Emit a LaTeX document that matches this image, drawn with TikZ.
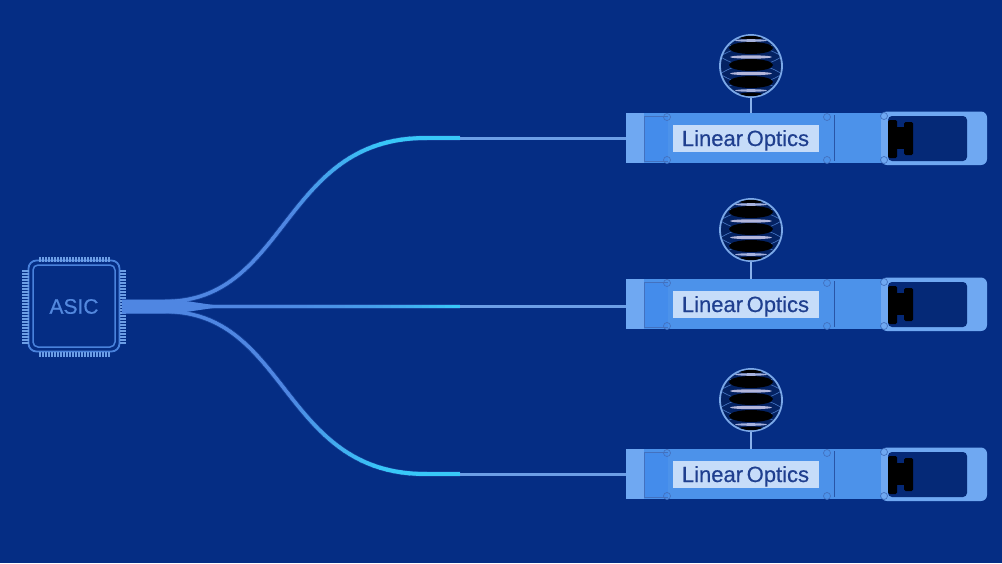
\documentclass[tikz,border=0pt]{standalone}
\usepackage{fontspec}
\setmainfont{Liberation Sans}
\newfontfamily\labfont[FakeBold=0.5,WordSpace=0.6]{Liberation Sans}
\usetikzlibrary{calc}
\definecolor{bgc}{HTML}{052D84}
\definecolor{fibA}{HTML}{4F86E2}
\definecolor{fibB}{HTML}{38C8F8}
\definecolor{modc}{HTML}{4C92EA}
\definecolor{modl}{HTML}{6FA8F2}
\definecolor{modi}{HTML}{448CEB}
\definecolor{labelc}{HTML}{C6DCF9}
\definecolor{txtc}{HTML}{1F3F8F}
\definecolor{ringc}{HTML}{6C9EE6}
\definecolor{asicc}{HTML}{4A82DC}
\definecolor{bandc}{HTML}{B4B6DA}
\tikzset{
 fiberbase/.style={draw=fibA,line width=3.2pt},
 fiberglow/.style={draw=fibA,line width=5.2pt,opacity=.25},
 asictext/.style={text=asicc!95!white,font=\labfont\fontsize{21}{23}\selectfont,inner sep=0pt},
 labelbox/.style={fill=labelc,text=txtc,minimum width=146pt,minimum height=27pt,inner sep=0pt,text height=17pt,text depth=2pt,font=\labfont\fontsize{22}{24}\selectfont},
 pin/.style={draw=ringc,line width=1.2pt},
 screw/.style={circle,draw=ringc!60!bgc,line width=.7pt,minimum size=7pt,inner sep=0pt},
 globering/.style={circle,draw=ringc!90!white,line width=1.8pt,minimum size=62pt,inner sep=0pt},
 stem/.style={draw=ringc!80!white,line width=1.4pt},
 tailline/.style={draw=ringc,line width=3pt},
}
\newcommand{\fibergrad}[6]{%
 \foreach \i in {0,...,49}{
  \pgfmathsetmacro{\ta}{\i/50}
  \pgfmathsetmacro{\tb}{(\i+1)/50+0.004}
  \pgfmathsetmacro{\mixv}{min(100,max(0,(\ta-#5)/(1-#5)*130))}
  \pgfmathsetmacro{\wid}{3.2+(#6-3.2)*\mixv/100}
  \colorlet{segc}{fibB!\mixv!fibA}
  \path (#1) .. controls (#2) and (#3) .. (#4) coordinate[pos=\ta] (sa) coordinate[pos=\tb] (sb);
  \draw[segc,line width=\wid pt] (sa) -- (sb);
 }
}
\newcommand{\module}[4]{%
 \begin{scope}[yshift=-#2pt]
  \coordinate (body#1) at (626,113);
  \fill[modc] (626,113) rectangle (895,163);
  \fill[modl] (626,113) rectangle (644,163);
  \fill[modi] (644,116) rectangle (668,161);
  \draw[ringc!60!bgc,line width=.6pt] (668,116) -- (644,116) -- (644,161) -- (668,161);
  \draw[ringc!35!bgc,line width=.8pt] (834,115) -- (834,161);
  \node[screw] (sa#1) at (667,117) {};
  \node[screw] (sb#1) at (827,117) {};
  \node[screw] (sc#1) at (667,160) {};
  \node[screw] (sd#1) at (827,160) {};
  \fill[modl,rounded corners=6pt] (881,111.5) rectangle (987,165);
  \fill[bgc!90!black,rounded corners=4pt] (888,116) rectangle (967,161);
  \fill[black,rounded corners=1.5pt] (888,120) rectangle (897,158);
  \fill[black,rounded corners=1.5pt] (904,122) rectangle (913,155);
  \fill[black] (896,127) rectangle (905,149);
  \node[screw] (se#1) at (884,116) {};
  \node[screw] (sf#1) at (884,160) {};
 \end{scope}
 \node[labelbox] (lab#1) at (745.5,#3) {Linear Optics};
 \node[globering,fill=bgc!75!black] (globe#1) at (751,#4) {};
 \begin{scope}
  \clip (751,#4) circle (30.2pt);
  \foreach \dy in {-26,-9.5,8,25}{
   \draw[ringc!65!bgc,line width=.6pt] (720,#4+\dy) .. controls (740,#4+\dy-13) and (762,#4+\dy-13) .. (782,#4+\dy);
   \draw[ringc!65!bgc,line width=.6pt] (720,#4+\dy) .. controls (740,#4+\dy+13) and (762,#4+\dy+13) .. (782,#4+\dy);
  }
  \foreach \dy in {-18,-1,16}{\fill[black] (751,#4+\dy) ellipse (22pt and 6pt);}
  \fill[black] (751,#4-29) ellipse (13pt and 2.4pt);
  \fill[black] (751,#4+29) ellipse (13pt and 2.4pt);
  \foreach \dy in {-9,7.5}{\fill[bandc] (751,#4+\dy) ellipse (21pt and 1.7pt);}
  \foreach \dy in {-25.5,24.5}{\fill[bandc!80!ringc] (751,#4+\dy) ellipse (16pt and 1.3pt);}
 \end{scope}
 \draw[stem] (globe#1.south) -- (751,#2+113) coordinate (top#1);
}
\begin{document}
\begin{tikzpicture}[x=1pt,y=-1pt]
\useasboundingbox (0,0) rectangle (1002,563);
\fill[bgc] (0,0) rectangle (1002,563);
% ASIC
\node[draw=asicc,line width=1.8pt,rounded corners=8pt,minimum width=91pt,minimum height=91pt,inner sep=0pt] (asic) at (74,306) {};
\node[draw=asicc,line width=1.5pt,rounded corners=5pt,minimum width=82pt,minimum height=82pt,inner sep=0pt] (asicin) at (74,306) {};
\node[asictext] (asiclab) at (74,306.5) {ASIC};
\foreach \k in {0,...,23}{
 \draw[pin] (40+\k*3,257) -- (40+\k*3,262);
 \draw[pin] (40+\k*3,352) -- (40+\k*3,357);
}
\foreach \k in {0,...,24}{
 \draw[pin] (22,271+\k*3) -- (29,271+\k*3);
 \draw[pin] (120,271+\k*3) -- (126,271+\k*3);
}
\module{1}{0}{138.5}{66}
\module{2}{166}{304.5}{230}
\module{3}{336}{474.5}{400}
% fibres
\coordinate (f0) at (122,306.5);
\coordinate (u0) at (165,301.5);
\coordinate (u1) at (288,301.5);
\coordinate (u2) at (282,138);
\coordinate (u3) at (425,138);
\coordinate (ue) at (460,138);
\coordinate (d0) at (165,311.5);
\coordinate (d1) at (288,311.5);
\coordinate (d2) at (282,474);
\coordinate (d3) at (425,474);
\coordinate (de) at (460,474);
\coordinate (me) at (460,306.5);
\draw[fiberglow] (u0) .. controls (u1) and (u2) .. (u3) -- (ue);
\draw[fiberglow] (d0) .. controls (d1) and (d2) .. (d3) -- (de);
\draw[fiberglow] (f0) -- (me);
\fill[fibA] (122,299.5) -- (165,299.5) .. controls (185,300) and (200,303.5) .. (225,306.5) .. controls (200,309.5) and (185,313) .. (165,313.5) -- (122,313.5) -- cycle;
\draw[fiberbase] (f0 |- u0) -- (u0) .. controls (u1) and (u2) .. (u3) -- (ue);
\draw[fiberbase] (f0 |- d0) -- (d0) .. controls (d1) and (d2) .. (d3) -- (de);
\draw[fiberbase] (f0) -- (me);
\fibergrad{u0}{u1}{u2}{u3}{0.5}{4}
\fibergrad{d0}{d1}{d2}{d3}{0.5}{4}
\draw[fibB,line width=4pt] (u3) -- (ue);
\draw[fibB,line width=4pt] (d3) -- (de);
\foreach \i in {0,...,29}{
 \pgfmathsetmacro{\mixv}{(\i/29)^2*100}
 \colorlet{segc}{fibB!\mixv!fibA}
 \draw[segc,line width=3.6pt] (230+\i*7.67,306.5) -- (238.2+\i*7.67,306.5);
}
\draw[tailline] (ue) -- (body1 |- ue);
\draw[tailline] (me) -- (626,306.5);
\draw[tailline] (de) -- (626,474);
\end{tikzpicture}
\end{document}
